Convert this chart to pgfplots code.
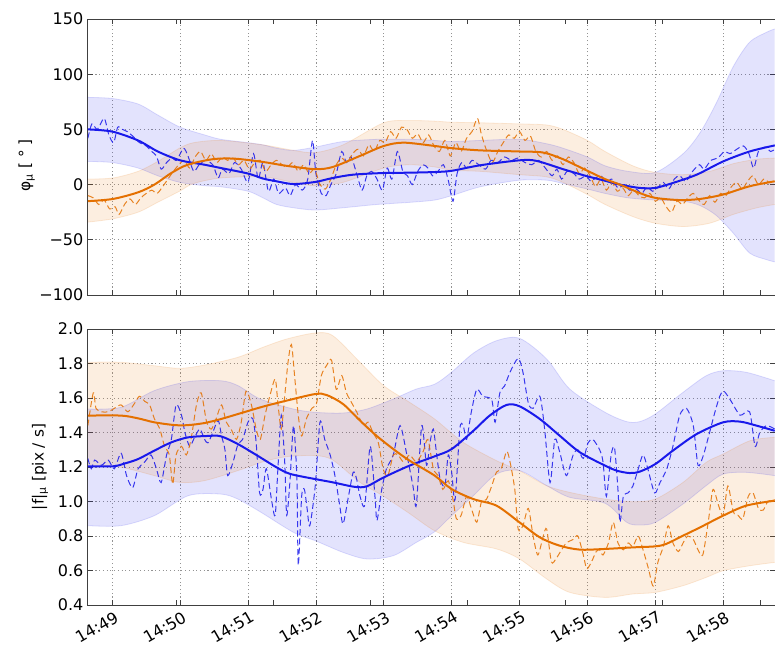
\documentclass[border=0pt]{standalone}
\usepackage{fontspec}
\setmainfont{DejaVu Sans}
\usepackage{pgfplots}
\pgfplotsset{compat=1.18}
\usepgfplotslibrary{fillbetween}
\usepackage{pgfplotstable}

\definecolor{cB}{RGB}{25,25,235}
\definecolor{cO}{RGB}{228,112,0}

% ---------- top panel ----------
\pgfplotstableread{
x y
48.64 50
49.00 48
49.38 40
49.67 30
50.00 22
50.36 18
50.60 15
51.00 10
51.22 5.5
51.42 3
51.67 0.5
52.00 2.5
52.25 6
52.55 9
53.00 10.5
53.38 10.8
53.75 11.4
54.00 12.5
54.42 17.5
55.00 22
55.25 21.5
55.64 14
56.00 7.5
56.26 3.5
56.48 0
56.77 -3
57.00 -3
57.26 1.5
57.61 9
58.00 21
58.39 30
58.76 35.5
}\tmB

\pgfplotstableread{
x y
48.64 -15
49.01 -13
49.38 -7
49.62 0
49.87 10.5
50.11 18
50.48 23
50.80 23.5
51.22 20.5
51.57 17
51.99 14
52.25 16
52.65 26
53.00 35
53.29 38
53.75 35
54.00 33
54.42 31
55.00 30
55.35 29
55.64 23
56.00 12.5
56.26 5
56.48 0
56.77 -7.6
57.00 -12
57.36 -14
57.66 -13
58.00 -9
58.39 -1.5
58.76 3
}\tmO

\pgfplotstableread{
x lo hi
48.64 21 79
49.00 20 78
49.38 15 73
49.67 8 63
50.00 2 52
50.36 -1 45
50.60 -2 41
51.00 -6 38
51.22 -12 36
51.42 -18 33
51.67 -21 31
51.99 -23 34
52.40 -21 39
52.90 -18 41
53.40 -16 41
53.75 -14 40
54.00 -10 39
54.42 -2 40
55.00 4 41
55.40 4 37
55.64 1 33
56.00 -4 25
56.26 -8 17
56.60 -12 12
57.00 -14 11
57.41 -15 28
57.66 -19 47
57.90 -28 74
58.15 -44 107
58.39 -62 129
58.64 -68 138
58.76 -70 141
}\tbB

\pgfplotstableread{
x lo hi
48.64 -34 5
49.01 -31 6
49.38 -25 12
49.67 -16 21
49.99 -6 33
50.20 1 38
50.60 6 40
51.22 7 36
51.67 2 31
51.99 -1 29
52.40 2 36
53.00 15 56
53.38 18 58
53.75 16 57.5
54.00 13 56.5
54.42 12 56
55.00 9 55
55.40 7 54
55.64 2 50
56.00 -9 40
56.26 -18 30
56.67 -29 17
57.00 -35 11
57.41 -38 9
57.80 -35 12
58.15 -27 19
58.50 -21 23
58.76 -18 24
}\tbO

\pgfplotstableread{
x y
48.64 42
48.70 55
48.78 50
48.88 60
48.95 45
49.02 38
49.08 52
49.15 50
49.22 48
49.30 44
49.40 38
49.50 35
49.58 30
49.65 26
49.72 14
49.80 20
49.88 24
49.95 22
50.05 33
50.12 25
50.20 12
50.28 18
50.38 22
50.48 18
50.56 6
50.62 14
50.72 10
50.80 20
50.90 14
51.00 2
51.08 28
51.15 5
51.22 20
51.30 -6
51.38 5
51.45 -8
51.55 -3
51.62 -10
51.70 0
51.80 -5
51.88 5
51.95 40
52.00 10
52.08 -8
52.15 -10
52.22 0
52.30 10
52.38 30
52.45 20
52.52 25
52.60 10
52.68 -5
52.75 8
52.82 12
52.90 5
52.98 -5
53.05 15
53.12 5
53.20 30
53.28 12
53.35 8
53.42 0
53.50 12
53.58 18
53.65 15
53.72 8
53.80 12
53.88 18
53.95 4
54.02 -15
54.08 10
54.15 20
54.22 15
54.30 22
54.40 18
54.50 14
54.58 22
54.68 20
54.78 25
54.88 22
54.98 24
55.08 20
55.18 18
55.28 22
55.38 15
55.48 8
55.55 14
55.62 5
55.70 12
55.80 10
55.88 5
55.98 8
56.05 3
56.12 6
56.20 8
56.28 2
56.36 5
56.45 -3
56.55 0
56.62 -5
56.72 -4
56.80 -8
56.88 -2
56.96 -6
57.05 -2
57.12 2
57.20 -4
57.28 5
57.36 8
57.45 3
57.55 12
57.65 18
57.72 14
57.82 22
57.92 24
58.02 30
58.10 28
58.20 32
58.30 35
58.38 28
58.45 15
58.52 30
58.62 34
58.70 30
58.76 32
}\tdB

\pgfplotstableread{
x y
48.64 -10
48.72 -12
48.80 -18
48.88 -14
48.96 -22
49.04 -20
49.10 -27
49.18 -18
49.26 -13
49.34 -18
49.42 -12
49.50 -8
49.58 -5
49.66 -8
49.74 -2
49.82 5
49.90 12
49.98 18
50.06 22
50.14 15
50.22 25
50.30 30
50.38 22
50.46 28
50.54 20
50.62 25
50.70 22
50.78 24
50.86 18
50.94 22
51.02 14
51.10 20
51.18 22
51.26 12
51.34 18
51.42 22
51.50 18
51.58 16
51.66 20
51.74 12
51.82 18
51.90 10
51.98 14
52.06 0
52.14 -4
52.22 5
52.30 18
52.38 24
52.46 20
52.54 28
52.62 32
52.70 26
52.78 36
52.86 30
52.94 40
53.02 38
53.10 48
53.18 42
53.26 52
53.34 50
53.42 42
53.50 46
53.58 38
53.66 45
53.74 35
53.82 30
53.90 40
53.98 26
54.06 38
54.14 30
54.22 42
54.30 48
54.38 60
54.44 45
54.52 30
54.60 20
54.68 30
54.76 38
54.84 45
54.92 42
55.00 48
55.08 40
55.16 44
55.24 30
55.32 25
55.40 30
55.48 22
55.56 26
55.64 18
55.72 25
55.80 20
55.88 10
55.96 15
56.04 8
56.12 -2
56.20 5
56.28 -5
56.36 2
56.44 -6
56.52 -3
56.60 -10
56.68 -5
56.76 -10
56.84 -12
56.92 -8
57.00 -15
57.08 -12
57.16 -20
57.24 -25
57.32 -15
57.40 -18
57.48 -12
57.56 -8
57.64 -14
57.72 -18
57.80 -10
57.88 -16
57.96 -8
58.04 -10
58.12 -2
58.20 2
58.28 -4
58.36 3
58.44 8
58.52 0
58.60 5
58.68 2
58.76 4
}\tdO

% ---------- bottom panel ----------
\pgfplotstableread{
x y
48.64 1.204
49.01 1.204
49.18 1.22
49.38 1.246
49.62 1.295
49.87 1.343
50.12 1.372
50.41 1.38
50.60 1.378
50.85 1.333
51.10 1.275
51.22 1.246
51.42 1.198
51.62 1.16
51.99 1.13
52.25 1.111
52.57 1.085
52.75 1.088
53.00 1.14
53.38 1.208
53.75 1.262
54.00 1.304
54.32 1.41
54.56 1.498
54.81 1.56
55.00 1.552
55.30 1.478
55.59 1.382
55.89 1.285
56.26 1.208
56.43 1.179
56.62 1.165
56.77 1.173
57.00 1.217
57.26 1.295
57.61 1.391
58.00 1.459
58.25 1.463
58.49 1.44
58.76 1.41
}\bmB

\pgfplotstableread{
x y
48.64 1.498
49.13 1.498
49.38 1.482
49.62 1.459
49.92 1.443
50.12 1.443
50.36 1.455
50.60 1.478
50.85 1.507
51.22 1.55
51.57 1.585
51.99 1.623
52.16 1.617
52.40 1.565
52.65 1.469
52.89 1.382
53.14 1.304
53.38 1.237
53.75 1.15
54.00 1.072
54.32 1.014
54.66 0.976
55.00 0.879
55.30 0.792
55.59 0.744
55.89 0.721
56.26 0.725
56.67 0.734
57.00 0.74
57.16 0.754
57.41 0.802
57.66 0.85
58.00 0.918
58.34 0.976
58.76 1.005
}\bmO

\pgfplotstableread{
x lo hi
48.64 0.86 1.536
49.13 0.86 1.546
49.62 0.918 1.643
50.12 1.034 1.695
50.60 1.043 1.70
50.85 1.014 1.672
51.18 0.94 1.594
51.67 0.821 1.536
51.99 0.773 1.517
52.40 0.705 1.513
52.75 0.667 1.536
53.14 0.686 1.594
53.48 0.763 1.652
53.75 0.825 1.68
54.00 0.918 1.75
54.32 1.034 1.86
54.66 1.159 1.932
55.00 1.179 1.946
55.40 1.092 1.826
55.74 1.024 1.652
56.26 0.99 1.517
56.58 0.879 1.463
56.77 0.864 1.463
57.00 0.879 1.507
57.41 0.986 1.633
57.75 1.092 1.729
58.00 1.159 1.758
58.34 1.169 1.749
58.76 1.15 1.70
}\bbB

\pgfplotstableread{
x lo hi
48.64 1.212 1.807
49.13 1.198 1.807
49.62 1.15 1.787
49.99 1.111 1.772
50.36 1.121 1.791
50.85 1.179 1.836
51.22 1.23 1.894
51.57 1.26 1.942
51.99 1.266 1.977
52.25 1.24 1.961
52.65 1.111 1.807
53.00 1.03 1.671
53.38 0.93 1.575
53.75 0.83 1.478
54.17 0.763 1.343
54.66 0.725 1.237
55.00 0.667 1.179
55.40 0.551 1.092
55.74 0.473 1.053
56.26 0.444 1.014
56.67 0.464 0.999
57.00 0.473 1.014
57.41 0.512 1.111
57.75 0.56 1.227
58.00 0.599 1.275
58.40 0.628 1.353
58.76 0.647 1.372
}\bbO

\pgfplotstableread{
x y
48.64 1.25
48.69 1.19
48.74 1.24
48.84 1.21
48.94 1.24
49.03 1.19
49.13 1.28
49.21 1.15
49.30 1.08
49.38 1.19
49.48 1.23
49.57 1.27
49.65 1.19
49.72 1.11
49.80 1.27
49.87 1.36
49.94 1.56
50.02 1.50
50.07 1.40
50.14 1.32
50.21 1.37
50.29 1.42
50.36 1.36
50.41 1.34
50.48 1.40
50.56 1.47
50.61 1.38
50.66 1.30
50.70 1.15
50.78 1.23
50.85 1.33
50.92 1.36
51.00 1.46
51.07 1.48
51.12 1.34
51.17 1.05
51.22 1.07
51.27 1.19
51.35 1.00
51.40 0.92
51.44 1.19
51.49 1.50
51.54 1.23
51.57 0.92
51.62 1.13
51.67 1.44
51.72 1.13
51.74 0.63
51.79 1.03
51.83 1.07
51.87 0.96
51.91 0.86
51.99 1.09
52.06 1.46
52.13 1.36
52.21 1.27
52.28 1.15
52.35 0.98
52.40 0.87
52.48 1.03
52.55 1.17
52.60 1.13
52.65 1.03
52.72 0.98
52.80 1.32
52.87 1.03
52.90 0.89
52.97 1.07
53.04 1.19
53.14 1.27
53.24 1.44
53.34 1.27
53.43 1.09
53.48 0.98
53.56 1.44
53.63 1.21
53.68 1.34
53.73 1.42
53.78 1.27
53.83 1.13
53.90 1.09
53.95 1.27
54.00 1.17
54.05 1.01
54.12 1.42
54.17 1.44
54.22 1.36
54.29 1.52
54.37 1.65
54.46 1.61
54.59 1.59
54.64 1.46
54.71 1.63
54.78 1.67
54.86 1.75
54.98 1.83
55.05 1.75
55.13 1.57
55.20 1.54
55.30 1.61
55.37 1.42
55.45 1.11
55.52 1.36
55.59 1.29
55.69 1.15
55.79 1.27
55.86 1.30
55.94 1.25
56.01 1.34
56.08 1.36
56.18 1.30
56.23 1.23
56.28 1.03
56.35 1.27
56.40 1.31
56.45 1.07
56.48 0.88
56.53 1.03
56.60 1.05
56.67 1.09
56.75 1.19
56.82 1.27
56.89 1.19
56.99 1.05
57.07 1.11
57.17 1.19
57.26 1.32
57.36 1.50
57.46 1.54
57.56 1.44
57.63 1.21
57.71 1.27
57.80 1.40
57.88 1.52
57.95 1.61
58.01 1.64
58.12 1.58
58.25 1.50
58.39 1.52
58.47 1.32
58.54 1.40
58.64 1.44
58.76 1.42
}\bdB

\pgfplotstableread{
x y
48.64 1.44
48.72 1.63
48.76 1.54
48.84 1.52
48.94 1.52
49.03 1.54
49.13 1.56
49.23 1.52
49.33 1.57
49.40 1.61
49.48 1.58
49.55 1.56
49.62 1.48
49.70 1.42
49.77 1.32
49.84 1.27
49.89 1.10
49.94 1.27
50.02 1.32
50.09 1.27
50.16 1.36
50.24 1.56
50.31 1.63
50.39 1.46
50.46 1.42
50.53 1.48
50.61 1.56
50.68 1.46
50.75 1.42
50.83 1.36
50.90 1.46
50.97 1.64
51.05 1.56
51.12 1.42
51.18 1.36
51.25 1.50
51.32 1.61
51.40 1.71
51.44 1.57
51.49 1.42
51.54 1.61
51.59 1.81
51.64 1.91
51.69 1.71
51.74 1.50
51.79 1.38
51.86 1.48
51.94 1.54
52.01 1.57
52.08 1.73
52.16 1.79
52.23 1.82
52.30 1.65
52.38 1.73
52.45 1.63
52.53 1.57
52.60 1.52
52.70 1.44
52.77 1.46
52.84 1.40
52.92 1.34
52.99 1.19
53.06 1.15
53.14 1.27
53.21 1.27
53.29 1.23
53.38 1.27
53.48 1.23
53.58 1.29
53.65 1.36
53.73 1.19
53.80 1.15
53.87 1.07
53.95 1.12
54.02 1.01
54.07 0.90
54.14 0.92
54.22 1.03
54.29 0.96
54.37 0.88
54.44 1.00
54.51 1.01
54.59 1.09
54.66 1.17
54.73 1.19
54.81 1.29
54.86 1.23
54.93 1.07
54.98 0.84
55.05 0.86
55.13 0.96
55.20 0.80
55.27 0.69
55.35 0.80
55.40 0.84
55.47 0.65
55.54 0.67
55.62 0.72
55.69 0.76
55.79 0.78
55.86 0.80
55.94 0.69
55.99 0.61
56.06 0.65
56.13 0.71
56.18 0.72
56.23 0.69
56.31 0.76
56.38 0.88
56.45 0.76
56.53 0.72
56.60 0.76
56.67 0.74
56.75 0.80
56.82 0.72
56.90 0.61
56.97 0.51
57.04 0.65
57.12 0.74
57.19 0.86
57.26 0.76
57.34 0.71
57.41 0.76
57.48 0.80
57.56 0.78
57.63 0.72
57.70 0.69
57.78 0.88
57.85 1.07
57.93 0.98
58.00 0.92
58.07 1.09
58.15 0.94
58.22 0.92
58.29 0.90
58.37 1.03
58.44 1.05
58.52 0.96
58.59 0.95
58.66 1.00
58.76 1.01
}\bdO

\pgfplotsset{
  myaxis/.style={
    scale only axis, width=515.25pt, height=207pt,
    xmin=48.642, xmax=58.764,
    xtick={49,50,51,52,53,54,55,56,57,58},
    tick align=inside, major tick length=3.5pt,
    grid=major,
    major grid style={gray!85, line width=0.5pt, dash pattern=on 0.8pt off 2pt},
    axis line style={black!75, line width=0.75pt},
    tick style={black!75, line width=0.6pt},
    tick label style={font=\fontsize{12}{14}\selectfont},
    label style={font=\fontsize{11.5}{14}\selectfont},
    extra x ticks={49.94,51.37,52.8,54.23,55.67,57.11,58.55},
    extra x tick labels={},
    extra x tick style={grid=none},
  },
  bandline/.style={draw=#1, draw opacity=0.14, line width=0.6pt, smooth},
  meanline/.style={draw=#1, line width=1.5pt, smooth},
  noisy/.style={draw=#1, line width=0.75pt, dash pattern=on 4.5pt off 2.5pt, opacity=0.85, smooth, tension=0.45},
}

\begin{document}
\begin{tikzpicture}
% top axis
\begin{axis}[myaxis,
  at={(0pt,232.5pt)}, anchor=south west,
  ymin=-100, ymax=150,
  ytick={-100,-50,0,50,100,150},
  yticklabels={−100,−50,0,50,100,150},
  xticklabels={},
  ylabel={φ\textsubscript{μ} [ ° ]},
  ylabel style={at={(axis description cs:-0.0892,0.47)}, anchor=center},
]
\addplot[name path=tbBhi, bandline=cB] table[x=x,y=hi]{\tbB};
\addplot[name path=tbBlo, bandline=cB] table[x=x,y=lo]{\tbB};
\addplot[fill=cB, fill opacity=0.12, draw=none] fill between[of=tbBhi and tbBlo];
\addplot[name path=tbOhi, bandline=cO] table[x=x,y=hi]{\tbO};
\addplot[name path=tbOlo, bandline=cO] table[x=x,y=lo]{\tbO};
\addplot[fill=cO, fill opacity=0.12, draw=none] fill between[of=tbOhi and tbOlo];
\addplot[noisy=cB] table[x=x,y=y]{\tdB};
\addplot[noisy=cO] table[x=x,y=y]{\tdO};
\addplot[meanline=cB] table[x=x,y=y]{\tmB};
\addplot[meanline=cO] table[x=x,y=y]{\tmO};
\end{axis}
% bottom axis
\begin{axis}[myaxis,
  at={(0pt,0pt)}, anchor=south west,
  ymin=0.4, ymax=2.0,
  ytick={0.4,0.6,0.8,1.0,1.2,1.4,1.6,1.8,2.0},
  yticklabels={0.4,0.6,0.8,1.0,1.2,1.4,1.6,1.8,2.0},
  xticklabels={14:49,14:50,14:51,14:52,14:53,14:54,14:55,14:56,14:57,14:58},
  xticklabel style={rotate=30, anchor=north east, inner sep=1pt, yshift=-3pt},
  ylabel={|f|\textsubscript{μ} [pix / s]},
  ylabel style={at={(axis description cs:-0.0699,0.5)}, anchor=center},
]
\addplot[name path=bbBhi, bandline=cB] table[x=x,y=hi]{\bbB};
\addplot[name path=bbBlo, bandline=cB] table[x=x,y=lo]{\bbB};
\addplot[fill=cB, fill opacity=0.12, draw=none] fill between[of=bbBhi and bbBlo];
\addplot[name path=bbOhi, bandline=cO] table[x=x,y=hi]{\bbO};
\addplot[name path=bbOlo, bandline=cO] table[x=x,y=lo]{\bbO};
\addplot[fill=cO, fill opacity=0.12, draw=none] fill between[of=bbOhi and bbOlo];
\addplot[noisy=cB] table[x=x,y=y]{\bdB};
\addplot[noisy=cO] table[x=x,y=y]{\bdO};
\addplot[meanline=cB] table[x=x,y=y]{\bmB};
\addplot[meanline=cO] table[x=x,y=y]{\bmO};
\end{axis}
\pgfresetboundingbox
\path[use as bounding box] (-66pt,-29.25pt) rectangle (515.25pt,453.75pt);
\end{tikzpicture}
\end{document}
